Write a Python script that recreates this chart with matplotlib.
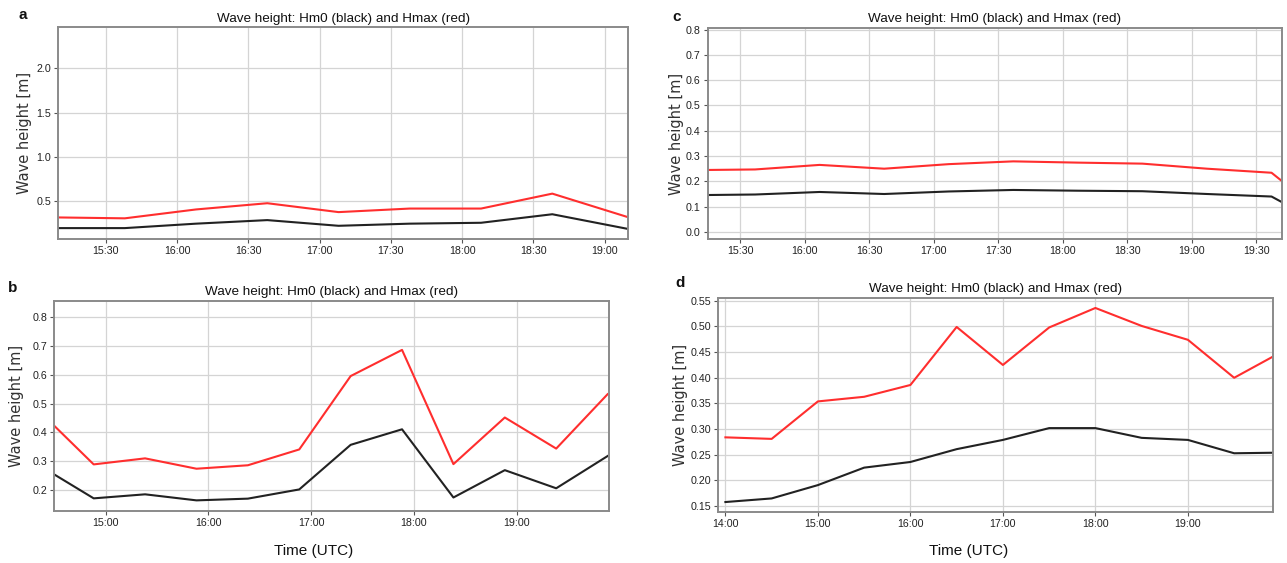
import matplotlib
matplotlib.use("Agg")
import matplotlib.pyplot as plt
import matplotlib.dates as mdates
from matplotlib import font_manager
import pandas as pd

DAY = "2019-06-01 "

# Panel a
a_times = ["15:10", "15:38", "16:08", "16:38", "17:08", "17:38", "18:08", "18:38", "19:10"]
a_hmax = [0.32, 0.31, 0.41, 0.48, 0.38, 0.42, 0.42, 0.588, 0.322]
a_hm0 = [0.20, 0.20, 0.25, 0.29, 0.226, 0.25, 0.26, 0.356, 0.19]

# Panel b
b_times = ["14:30", "14:53", "15:23", "15:53", "16:23", "16:53", "17:23", "17:53",
           "18:23", "18:53", "19:23", "19:53"]
b_hmax = [0.423, 0.289, 0.31, 0.274, 0.286, 0.341, 0.596, 0.687, 0.29, 0.452, 0.344, 0.533]
b_hm0 = [0.254, 0.171, 0.185, 0.164, 0.17, 0.202, 0.357, 0.411, 0.174, 0.269, 0.206, 0.318]

# Panel c
c_times = ["15:15", "15:37", "16:07", "16:37", "17:07", "17:37", "18:07", "18:37",
           "19:07", "19:37", "19:42"]
c_hmax = [0.245, 0.247, 0.265, 0.25, 0.268, 0.279, 0.274, 0.27, 0.25, 0.234, 0.20]
c_hm0 = [0.146, 0.148, 0.158, 0.15, 0.16, 0.166, 0.163, 0.161, 0.15, 0.14, 0.117]

# Panel d
d_times = ["14:00", "14:30", "15:00", "15:30", "16:00", "16:30", "17:00", "17:30",
           "18:00", "18:30", "19:00", "19:30", "19:55"]
d_hmax = [0.284, 0.281, 0.354, 0.363, 0.386, 0.499, 0.425, 0.498, 0.536, 0.501, 0.474, 0.40, 0.441]
d_hm0 = [0.158, 0.165, 0.191, 0.225, 0.236, 0.261, 0.279, 0.302, 0.302, 0.283, 0.279, 0.253, 0.254]

TITLE = "Wave height: Hm0 (black) and Hmax (red)"
W, H = 1287, 563

# narrow face for titles and tick labels, if the system has one
installed = {f.name for f in font_manager.fontManager.ttflist}
if "Liberation Sans Narrow" in installed:
    NARROW = "Liberation Sans Narrow"
    TICK_SIZE, TITLE_SIZE = 8.2, 11
else:
    NARROW = "Liberation Sans"
    TICK_SIZE, TITLE_SIZE = 7.7, 9.7

fig = plt.figure(figsize=(W / 100, H / 100), dpi=100)


def px_axes(x0, y0, x1, y1):
    return fig.add_axes([x0 / W, 1 - y1 / H, (x1 - x0) / W, (y1 - y0) / H])


def to_dt(times):
    return pd.to_datetime([DAY + t for t in times])


def panel(rect, times, hmax, hm0, xlim, ylim, yticks, yfmt, locator, letter, letter_xy,
          ylab_x, xlabel_x=None):
    ax = px_axes(*rect)
    t = to_dt(times)
    ax.plot(t, hm0, color="#222222", lw=1.5)
    ax.plot(t, hmax, color="#ff2e2e", lw=1.5)
    ax.set_xlim(pd.Timestamp(DAY + xlim[0]), pd.Timestamp(DAY + xlim[1]))
    ax.set_ylim(*ylim)
    ax.set_yticks(yticks)
    ax.set_yticklabels([yfmt % v for v in yticks])
    ax.xaxis.set_major_locator(locator)
    ax.xaxis.set_major_formatter(mdates.DateFormatter("%H:%M"))
    ax.grid(True, color="#d4d4d4", lw=0.9)
    ax.set_axisbelow(True)
    for s in ax.spines.values():
        s.set_color("#8a8a8a")
        s.set_linewidth(1.4)
    ax.tick_params(length=3, width=0.8, color="#555555", labelsize=TICK_SIZE,
                   labelcolor="#222222", pad=2)
    for lab in ax.get_xticklabels() + ax.get_yticklabels():
        lab.set_family(NARROW)
    ax.set_title(TITLE, fontsize=TITLE_SIZE, family=NARROW, pad=4, color="#111111")
    yc = 1 - ((rect[1] + rect[3]) / 2) / H
    fig.text(ylab_x / W, yc, "Wave height [m]", rotation=90, ha="center", va="center",
             fontsize=10.5, color="#333333", family="DejaVu Sans")
    fig.text(letter_xy[0] / W, 1 - letter_xy[1] / H, letter, ha="center", va="center",
             fontsize=11, fontweight="bold", family="Liberation Sans", color="#111111")
    if xlabel_x is not None:
        fig.text(xlabel_x / W, 1 - 551 / H, "Time (UTC)", ha="center", va="center",
                 fontsize=11, family="Liberation Sans", color="#111111")
    return ax


half_hour = mdates.MinuteLocator(byminute=[0, 30])
hourly = mdates.HourLocator()

panel((58.3, 27.3, 628.3, 239.3), a_times, a_hmax, a_hm0, ("15:10", "19:10"),
      (0.074, 2.46), [0.5, 1.0, 1.5, 2.0], "%.1f", half_hour, "a", (23, 15), 25)
panel((54.3, 300.7, 609.3, 511.3), b_times, b_hmax, b_hm0, ("14:30", "19:54"),
      (0.126, 0.858), [0.2, 0.3, 0.4, 0.5, 0.6, 0.7, 0.8], "%.1f", hourly, "b", (13, 288), 17,
      xlabel_x=314)
panel((707.7, 28, 1282.3, 239.3), c_times, c_hmax, c_hm0, ("15:15", "19:42"),
      (-0.029, 0.806), [0.0, 0.1, 0.2, 0.3, 0.4, 0.5, 0.6, 0.7, 0.8], "%.1f",
      mdates.MinuteLocator(byminute=[0, 30]), "c", (677, 17), 677)
panel((717.7, 297.7, 1272.7, 512.3), d_times, d_hmax, d_hm0, ("13:55", "19:55"),
      (0.138, 0.556), [0.15, 0.20, 0.25, 0.30, 0.35, 0.40, 0.45, 0.50, 0.55], "%.2f",
      mdates.HourLocator(), "d", (680, 283), 681, xlabel_x=969)

fig.savefig("out.png", dpi=100, facecolor="white")
